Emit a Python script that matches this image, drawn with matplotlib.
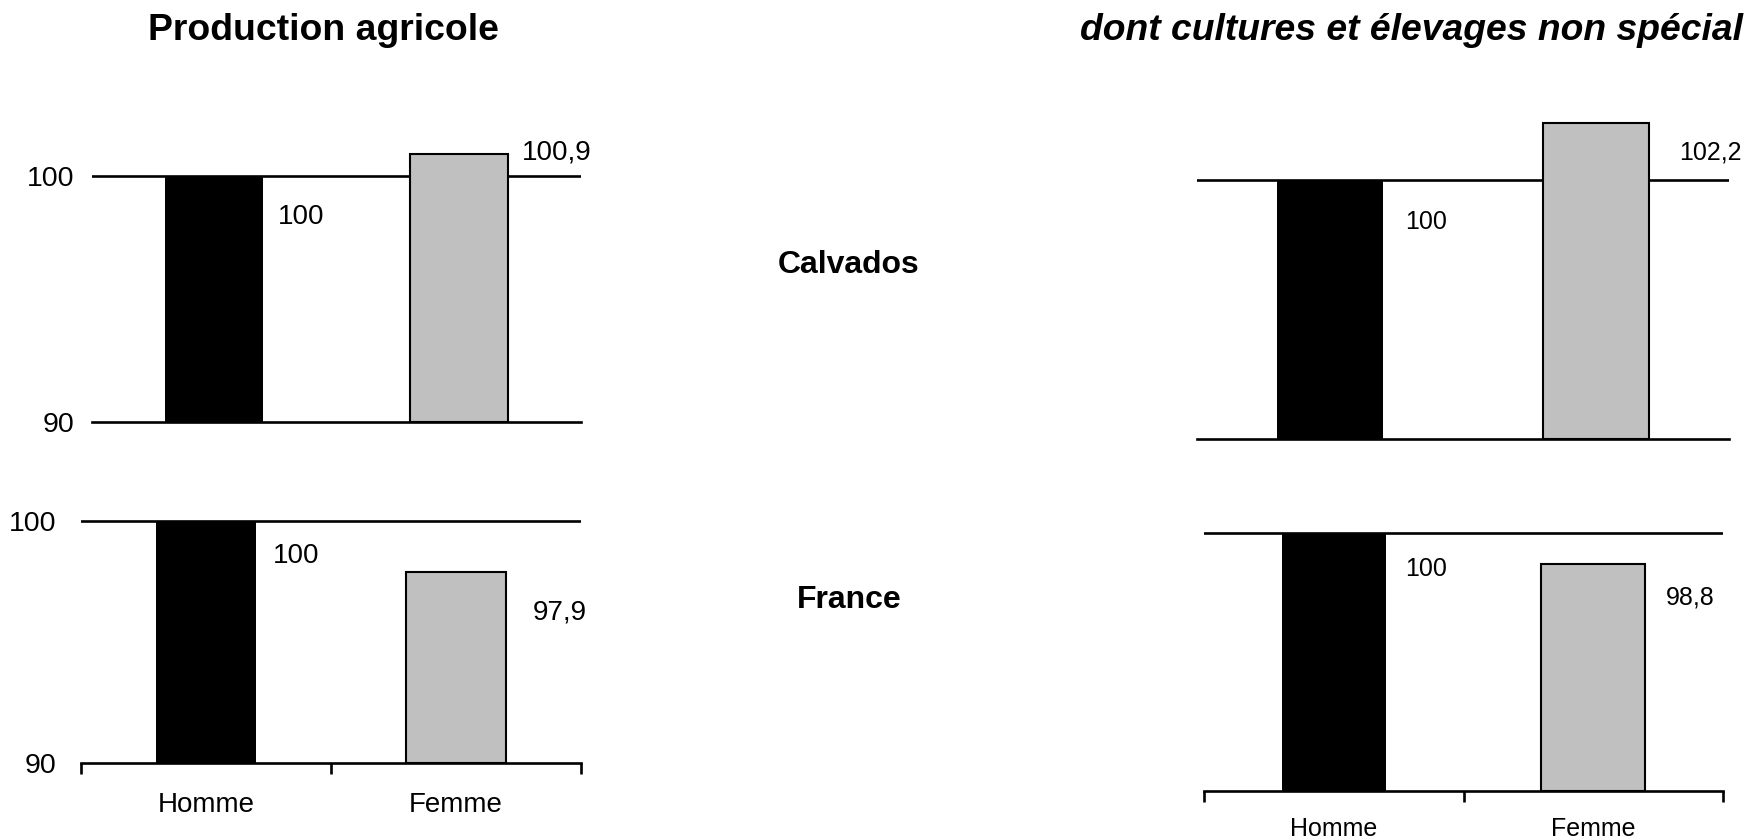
import matplotlib
matplotlib.use("Agg")
import matplotlib.pyplot as plt

plt.rcParams['font.family'] = ['Liberation Sans', 'DejaVu Sans']

categories = ["Homme", "Femme"]
calvados_prod = [100, 100.9]
france_prod = [100, 97.9]
calvados_cult = [100, 102.2]
france_cult = [100, 98.8]
value_labels_calv_prod = ["100", "100,9"]
value_labels_fr_prod = ["100", "97,9"]
value_labels_calv_cult = ["100", "102,2"]
value_labels_fr_cult = ["100", "98,8"]
ytick_values = [90, 100]
ytick_labels = ["90", "100"]
col_titles = ["Production agricole", "dont cultures et élevages non spécial"]
row_titles = ["Calvados", "France"]

W, H = 1746, 839
fig = plt.figure(figsize=(W / 100, H / 100), dpi=100)

bar_colors = ["#000000", "#C0C0C0"]
edge_colors = ["#000000", "#000000"]
LW = 1.9


def px_axes(x0, x1, ytop, ybot):
    return fig.add_axes([x0 / W, 1 - ybot / H, (x1 - x0) / W, (ybot - ytop) / H])


def draw(ax, values, labels, ymax, show_y, show_x, offsets, fs, ypad=13, xpad=21):
    x = list(range(len(categories)))
    ax.bar(x, [v - 90 for v in values], bottom=90, width=0.4,
           color=bar_colors, edgecolor=edge_colors, linewidth=[0, 1.5], zorder=3)
    ax.set_xlim(-0.5, 1.5)
    ax.set_ylim(90, ymax)
    for s in ["top", "right", "left"]:
        ax.spines[s].set_visible(False)
    ax.spines["bottom"].set_linewidth(LW)
    ax.axhline(100, color="black", linewidth=LW, zorder=2)
    ax.set_yticks(ytick_values)
    if show_y:
        ax.set_yticklabels(ytick_labels, fontsize=fs + 0.5)
        ax.tick_params(axis="y", length=0, pad=ypad)
    else:
        ax.set_yticklabels([])
        ax.tick_params(axis="y", length=0)
    if show_x:
        ax.set_xticks([-0.5, 0.5, 1.5], minor=False)
        ax.set_xticklabels([])
        ax.set_xticks(x, minor=True)
        ax.set_xticklabels(categories, minor=True, fontsize=fs)
        ax.tick_params(axis="x", which="major", length=8, width=LW, direction="out")
        ax.tick_params(axis="x", which="minor", length=0, pad=xpad)
    else:
        ax.set_xticks([])
    for i, (v, lab) in enumerate(zip(values, labels)):
        dx, dy = offsets[i]
        ax.annotate(lab, xy=(i + 0.2, v), xytext=(dx, dy), textcoords="offset pixels",
                    ha="left", va="center", fontsize=fs, zorder=4)


ax1 = px_axes(92, 581, 127, 422)
draw(ax1, calvados_prod, value_labels_calv_prod, 102, True, False,
     [(15, -41), (14, 2)], fs=20, ypad=13)
ax2 = px_axes(81, 581, 497, 763)
draw(ax2, france_prod, value_labels_fr_prod, 101, True, True,
     [(17, -35), (27, -41)], fs=20, ypad=18, xpad=21)
ax3 = px_axes(1197, 1729, 102, 439)
draw(ax3, calvados_cult, value_labels_calv_cult, 103, False, False,
     [(22, -42), (30, -30)], fs=18)
ax4 = px_axes(1204, 1723, 507, 791)
draw(ax4, france_cult, value_labels_fr_cult, 101, False, True,
     [(19, -36), (21, -34)], fs=18, xpad=18.5)

fig.text(323 / W, 1 - 30 / H, col_titles[0], ha="center", va="center",
         fontsize=26.9, fontweight="bold")
fig.text(1080 / W, 1 - 30 / H, col_titles[1], ha="left", va="center",
         fontsize=26.8, fontweight="bold", fontstyle="italic")
fig.text(849 / W, 1 - 265 / H, row_titles[0], ha="center", va="center",
         fontsize=23, fontweight="bold")
fig.text(849 / W, 1 - 600 / H, row_titles[1], ha="center", va="center",
         fontsize=23, fontweight="bold")

fig.savefig("out.png", dpi=100, facecolor="white")
